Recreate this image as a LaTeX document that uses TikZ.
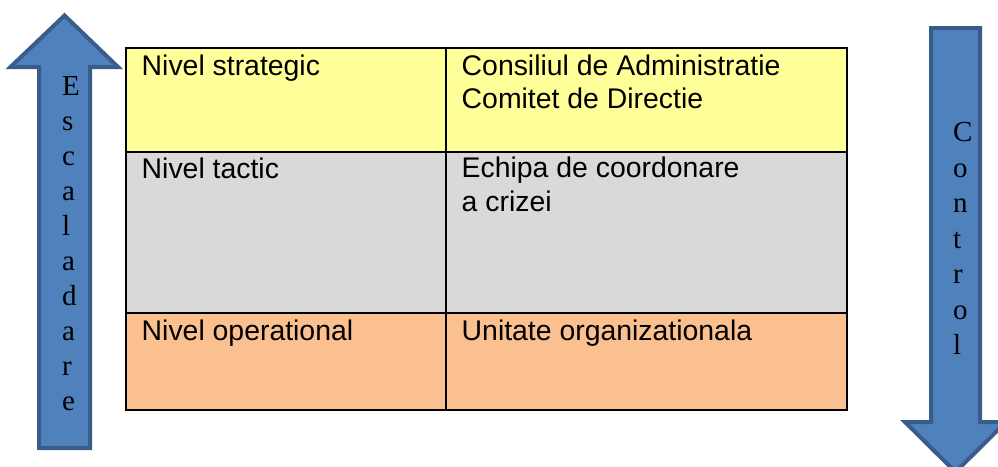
\documentclass[tikz,border=0pt]{standalone}
\usepackage{fontspec}
\setmainfont{Liberation Sans}
\newfontfamily\arrowfont{Liberation Serif}
\definecolor{rowyellow}{HTML}{FFFF99}
\definecolor{rowgray}{HTML}{D9D9D9}
\definecolor{roworange}{HTML}{FAC090}
\definecolor{arrowfill}{HTML}{4F81BD}
\definecolor{arrowline}{HTML}{385D8A}
\tikzset{
  bigarrow/.style={fill=arrowfill, draw=arrowline, line width=4pt, line join=miter},
  grid/.style={draw=black, line width=2.5pt},
  celltext/.style={anchor=base west, inner sep=0pt, font=\fontsize{28.4}{33}\selectfont},
  letter/.style={anchor=base west, inner sep=0pt, font=\arrowfont\fontsize{29}{35}\selectfont}
}
\begin{document}
\begin{tikzpicture}[x=1pt,y=-1pt]
\useasboundingbox (0,0) rectangle (998,466);
\clip (0,0) rectangle (998,466);
% left arrow (up)
\draw[bigarrow] (64.5,15.5) -- (10.5,67) -- (39,67) -- (39,448) -- (90,448) -- (90,67) -- (118,67) -- cycle;
% right arrow (down)
\draw[bigarrow] (931,28) -- (980,28) -- (980,422) -- (1006,422) -- (955.5,472) -- (905,422) -- (931,422) -- cycle;
% table rows
\fill[rowyellow] (126,48) rectangle (847,152);
\fill[rowgray] (126,152) rectangle (847,313);
\fill[roworange] (126,313) rectangle (847,410);
\draw[grid] (126,152) -- (847,152);
\draw[grid] (126,313) -- (847,313);
\draw[grid] (446,48) -- (446,410);
\draw[grid] (126,48) rectangle (847,410);
% texts
\node[celltext] (s1) at (141.5,75) {Nivel strategic};
\node[celltext] (s2a) at (461.5,75.5) {Consiliul de Administratie};
\node[celltext] (s2b) at (461.5,108.5) {Comitet de Directie};
\node[celltext] (t1) at (141.5,178) {Nivel tactic};
\node[celltext] (t2a) at (461.5,177.5) {Echipa de coordonare};
\node[celltext] (t2b) at (461.5,211) {a crizei};
\node[celltext] (o1) at (141.5,340) {Nivel operational};
\node[celltext] (o2) at (461.5,340) {Unitate organizationala};
% vertical letters
\foreach \ch [count=\i from 0] in {E,s,c,a,l,a,d,a,r,e}
  \node[letter] (esc\i) at (62,95+35*\i) {\ch};
\foreach \ch [count=\i from 0] in {C,o,n,t,r,o,l}
  \node[letter] (ctl\i) at (953,141.5+35.5*\i) {\ch};
\end{tikzpicture}
\end{document}
